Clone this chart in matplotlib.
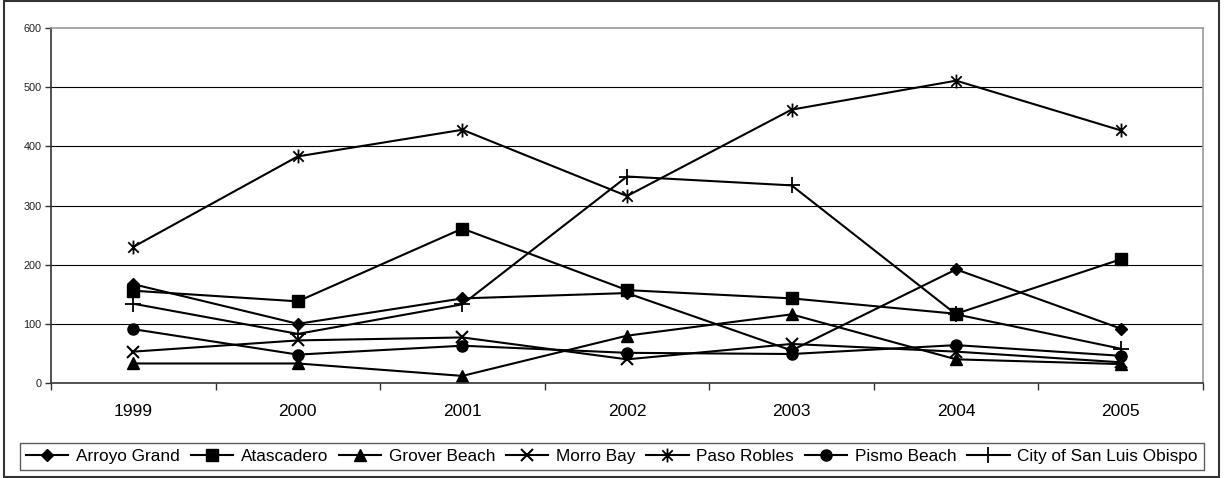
import matplotlib
matplotlib.use("Agg")
import matplotlib.pyplot as plt
from matplotlib.path import Path
from matplotlib.patches import Rectangle

years = ["1999", "2000", "2001", "2002", "2003", "2004", "2005"]
arroyo_grand = [167, 100, 143, 152, 55, 192, 92]
atascadero = [156, 138, 261, 157, 143, 117, 209]
grover_beach = [33, 33, 12, 80, 116, 40, 32]
morro_bay = [53, 72, 77, 40, 66, 53, 35]
paso_robles = [230, 383, 428, 316, 462, 511, 427]
pismo_beach = [91, 48, 63, 51, 49, 64, 46]
slo_city = [134, 83, 133, 349, 334, 116, 58]
y_ticks = [0, 100, 200, 300, 400, 500, 600]

plt.rcParams['font.family'] = ['Liberation Sans', 'DejaVu Sans']

asterisk = Path(
    [(0, -1), (0, 1), (-0.75, -0.75), (0.75, 0.75), (-0.75, 0.75), (0.75, -0.75)],
    [Path.MOVETO, Path.LINETO, Path.MOVETO, Path.LINETO, Path.MOVETO, Path.LINETO])

series = [
    ("Arroyo Grand", arroyo_grand, dict(marker="D", markersize=6)),
    ("Atascadero", atascadero, dict(marker="s", markersize=8)),
    ("Grover Beach", grover_beach, dict(marker="^", markersize=8)),
    ("Morro Bay", morro_bay, dict(marker="x", markersize=8, markeredgewidth=1.5)),
    ("Paso Robles", paso_robles, dict(marker=asterisk, markersize=10, markeredgewidth=1.3)),
    ("Pismo Beach", pismo_beach, dict(marker="o", markersize=8)),
    ("City of San Luis Obispo", slo_city, dict(marker="+", markersize=11, markeredgewidth=1.3)),
]

fig = plt.figure(figsize=(12.24, 4.78), dpi=100)
ax = fig.add_axes([51 / 1224, 1 - 383 / 478, (1203 - 51) / 1224, (383 - 28) / 478])

x = list(range(len(years)))
handles = []
for name, vals, st in series:
    h, = ax.plot(x, vals, color="black", lw=1.5, label=name,
                 markerfacecolor="black", markeredgecolor="black", **st)
    handles.append(h)

ax.set_xlim(-0.5, len(years) - 0.5)
ax.set_ylim(0, 600)
ax.set_yticks(y_ticks)
ax.set_yticklabels([str(v) for v in y_ticks], fontsize=7.8, color="#222222")
ax.set_xticks(x)
ax.set_xticklabels(years, fontsize=12.5)
ax.set_xticks([i - 0.5 for i in range(len(years) + 1)], minor=True)
ax.tick_params(axis="x", which="major", length=0, pad=15)
ax.tick_params(axis="x", which="minor", length=5, width=1, direction="out", color="#333333")
ax.tick_params(axis="y", length=4, width=1, direction="out", pad=3, color="#333333")

for v in y_ticks[1:-1]:
    ax.axhline(v, color="black", lw=0.8, zorder=0)

ax.spines["left"].set_color("#333333")
ax.spines["bottom"].set_color("#333333")
ax.spines["left"].set_linewidth(1.2)
ax.spines["bottom"].set_linewidth(1.2)
ax.spines["top"].set_color("#999999")
ax.spines["right"].set_color("#999999")
ax.spines["top"].set_linewidth(1.2)
ax.spines["right"].set_linewidth(1.2)

leg = fig.legend(handles=handles, loc="center", ncol=7,
                 bbox_to_anchor=(612 / 1224, 1 - 456.5 / 478),
                 fontsize=12.4, frameon=True, fancybox=False, edgecolor="#333333",
                 handlelength=2.45, handletextpad=0.45, columnspacing=0.63,
                 borderpad=0.36, borderaxespad=0)
leg.get_frame().set_linewidth(1.0)

fig.patches.append(Rectangle((4 / 1224, 1 - 477 / 478), 1215 / 1224, 476 / 478,
                             transform=fig.transFigure, fill=False,
                             edgecolor="#333333", lw=1.5))

fig.savefig("out.png", dpi=100)
